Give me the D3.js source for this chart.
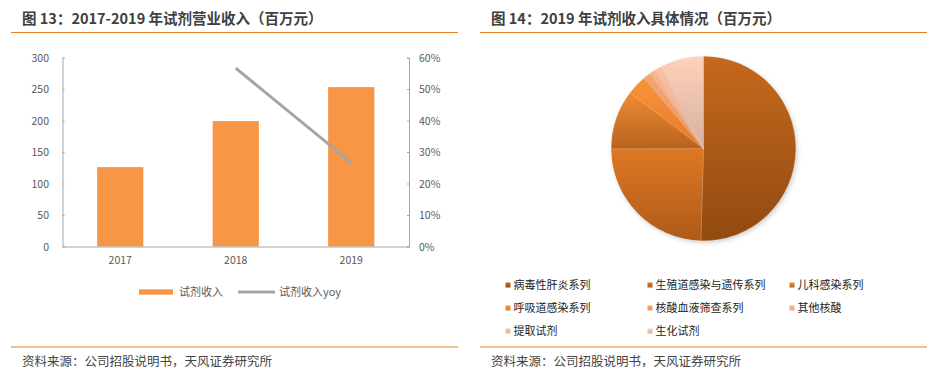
<!DOCTYPE html>
<html><head><meta charset="utf-8">
<script src="https://cdn.jsdelivr.net/npm/d3@7"></script>
<style>
html,body{margin:0;padding:0;background:#fff;}
svg{display:block;font-family:"Noto Sans CJK SC","Noto Sans",sans-serif;}
</style></head>
<body>
<svg id="c" width="938" height="377"></svg>
<script>
// ---- data ----
const years = ["2017","2018","2019"];
const revenue = [126, 199, 253];
const yoy = [null, 0.566, 0.266];
const leftTicks = [0,50,100,150,200,250,300];
const rightTicks = [0,0.1,0.2,0.3,0.4,0.5,0.6];
const pieCats = ["病毒性肝炎系列","生殖道感染与遗传系列","儿科感染系列","呼吸道感染系列","核酸血液筛查系列","其他核酸","提取试剂","生化试剂"];
const pieVals = [127.7, 62.0, 26.3, 8.9, 3.5, 2.4, 3.1, 19.2];
const pieTop = ["#c4691d","#de7824","#ef8b33","#f8943c","#f7a771","#f9b694","#f9c1a4","#fdd2bc"];
const pieBot = ["#924a10","#ad5a1a","#b8631e","#e57a28","#e59468","#e8a88a","#e3b29c","#d8b0a0"];

const svg = d3.select("#c");
const defs = svg.append("defs");
const titleColor = "#404040";
const orange = "#e8801f";

// ---- headers / footers ----
function header(x, x0, x1, text){
  svg.append("text").attr("x",x).attr("y",24).attr("font-size",14.5).attr("font-weight","bold")
    .attr("fill",titleColor).text(text);
  svg.append("line").attr("x1",x0).attr("x2",x1).attr("y1",32.5).attr("y2",32.5)
    .attr("stroke",orange).attr("stroke-width",1.2);
  svg.append("line").attr("x1",x0).attr("x2",x1).attr("y1",347).attr("y2",347)
    .attr("stroke",orange).attr("stroke-width",1.2);
  svg.append("text").attr("x",x).attr("y",366).attr("font-size",12.5)
    .attr("fill","#444").text("资料来源：公司招股说明书，天风证券研究所");
}
header(22, 11, 458, "图 13：2017-2019 年试剂营业收入（百万元）");
header(491, 480, 927, "图 14：2019 年试剂收入具体情况（百万元）");

// ---- bar chart ----
const L = 62.5, R = 409, T = 57.5, B = 246.5;
const x = d3.scaleBand().domain(years).range([L,R]).paddingInner(0.6).paddingOuter(0.3);
const y = d3.scaleLinear().domain([0,300]).range([B,T]);
const y2 = d3.scaleLinear().domain([0,0.6]).range([B,T]);
const axisColor = "#a6a6a6", labColor = "#595959";

svg.append("g").selectAll("rect").data(years).join("rect")
  .attr("x",d=>x(d)).attr("width",x.bandwidth())
  .attr("y",(d,i)=>y(revenue[i])).attr("height",(d,i)=>B-y(revenue[i]))
  .attr("fill","#f79646");

const ga = svg.append("g").attr("transform",`translate(${L},0)`)
  .call(d3.axisRight(y).tickValues(leftTicks).tickSize(2).tickFormat(""));
ga.select(".domain").attr("stroke",axisColor);
ga.selectAll(".tick line").attr("stroke",axisColor);
svg.append("g").selectAll("text").data(leftTicks).join("text")
  .attr("x",49).attr("y",d=>y(d)+4).attr("text-anchor","end")
  .attr("font-size",10.5).attr("fill",labColor).text(d=>d);

const gb = svg.append("g").attr("transform",`translate(${R},0)`)
  .call(d3.axisLeft(y2).tickValues(rightTicks).tickSize(2).tickFormat(""));
gb.select(".domain").attr("stroke",axisColor);
gb.selectAll(".tick line").attr("stroke",axisColor);
svg.append("g").selectAll("text").data(rightTicks).join("text")
  .attr("x",419).attr("y",d=>y2(d)+4).attr("text-anchor","start")
  .attr("font-size",10.5).attr("fill",labColor).text(d=>d3.format(".0%")(d));

const gx = svg.append("g").attr("transform",`translate(0,${B})`)
  .call(d3.axisBottom(x).tickSize(0).tickFormat(""));
gx.select(".domain").attr("stroke",axisColor);
svg.append("g").selectAll("text").data(years).join("text")
  .attr("x",d=>x(d)+x.bandwidth()/2).attr("y",264).attr("text-anchor","middle")
  .attr("font-size",10.5).attr("fill",labColor).text(d=>d);

const linePts = years.map((d,i)=>[d,yoy[i]]).filter(p=>p[1]!=null);
svg.append("path").datum(linePts)
  .attr("d",d3.line().x(p=>x(p[0])+x.bandwidth()/2).y(p=>y2(p[1])))
  .attr("fill","none").attr("stroke","#a5a5a5").attr("stroke-width",3);

// legend
svg.append("rect").attr("x",139).attr("y",289.3).attr("width",34).attr("height",5.4).attr("fill","#f79646");
svg.append("text").attr("x",179).attr("y",296).attr("font-size",11).attr("fill",labColor).text("试剂收入");
svg.append("line").attr("x1",238).attr("x2",275).attr("y1",292).attr("y2",292).attr("stroke","#a5a5a5").attr("stroke-width",3);
svg.append("text").attr("x",279).attr("y",296).attr("font-size",11).attr("fill",labColor).text("试剂收入yoy");

// ---- pie chart ----
pieCats.forEach((c,i)=>{
  const g = defs.append("linearGradient").attr("id","pg"+i).attr("x1",0).attr("y1",0).attr("x2",0).attr("y2",1);
  g.append("stop").attr("offset","0%").attr("stop-color",pieTop[i]);
  g.append("stop").attr("offset","100%").attr("stop-color",pieBot[i]);
});
const f = defs.append("filter").attr("id","sh").attr("x","-20%").attr("y","-20%").attr("width","140%").attr("height","140%");
f.append("feDropShadow").attr("dx",1.5).attr("dy",2).attr("stdDeviation",2.5).attr("flood-color","#000").attr("flood-opacity",0.22);

const cx = 703.5, cy = 148.5, r = 92.3;
const pie = d3.pie().sort(null).value(d=>d)(pieVals);
const arc = d3.arc().innerRadius(0).outerRadius(r);
const pg = svg.append("g").attr("transform",`translate(${cx},${cy})`);
pg.append("circle").attr("r",r-0.5).attr("fill","#c06a2a").attr("filter","url(#sh)");
pg.selectAll("path").data(pie).join("path")
  .attr("d",arc).attr("fill",(d,i)=>`url(#pg${i})`)
  .attr("stroke","rgba(255,255,255,0.35)").attr("stroke-width",0.5);

// pie legend
const colX = [505.5, 647.5, 789.5];
const rowY = [285, 308, 331];
const lg = svg.append("g");
pieCats.forEach((c,i)=>{
  const col = i%3, row = Math.floor(i/3);
  lg.append("rect").attr("x",colX[col]).attr("y",rowY[row]-2.5).attr("width",5).attr("height",5)
    .attr("fill",`url(#pg${i})`);
  lg.append("text").attr("x",colX[col]+8).attr("y",rowY[row]+4).attr("font-size",11)
    .attr("fill","#222").text(c);
});
</script>
</body></html>
